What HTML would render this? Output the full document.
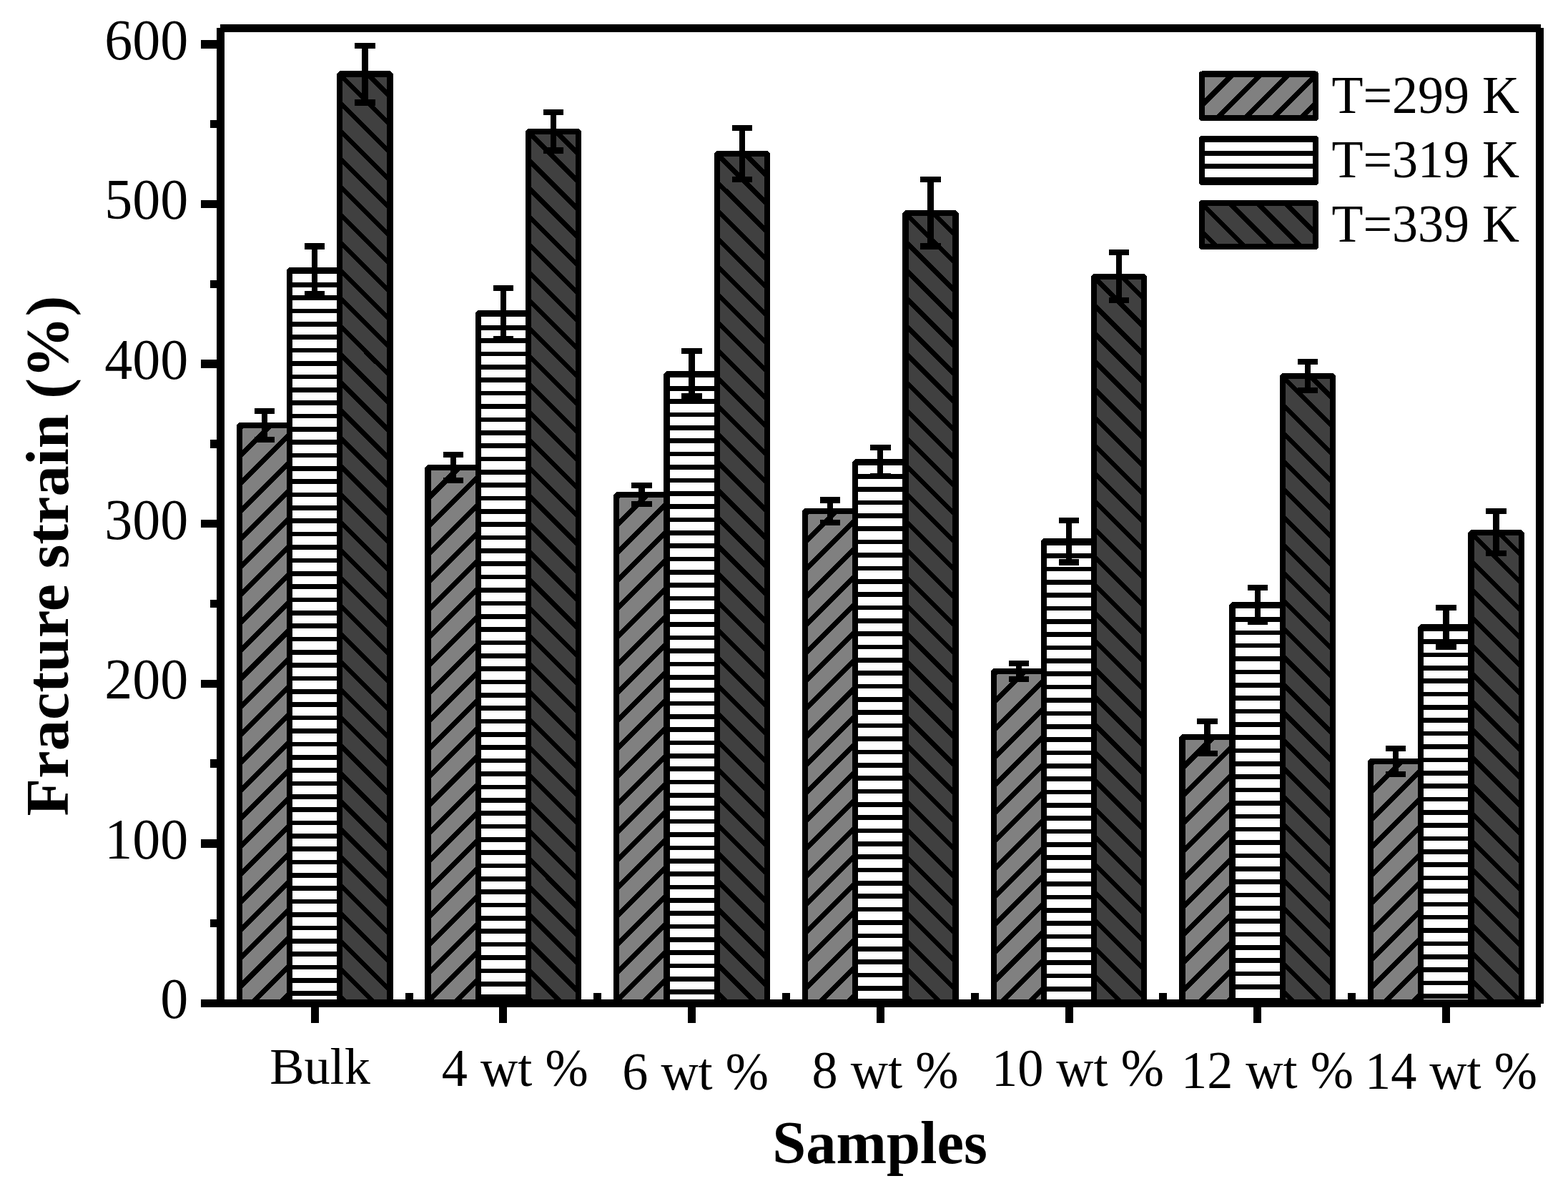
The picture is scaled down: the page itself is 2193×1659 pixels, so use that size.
<!DOCTYPE html>
<html lang="en"><head><meta charset="utf-8"><title>Fracture strain vs samples</title>
<style>html,body{margin:0;padding:0;background:#fff;}svg{display:block;}text{font-family:"Liberation Serif","DejaVu Serif",serif;fill:#000;}.tk{font-size:78px;text-anchor:end;}.xl{font-size:72.3px;}.lg{font-size:72px;}.ttl{font-size:84px;font-weight:bold;}.hz line{stroke:#000;stroke-width:6.60;}.dg line{stroke:#000;stroke-width:6.60;}.dg0 line{stroke:#000;stroke-width:7.10;}.bar{stroke:#000;stroke-width:8.30;stroke-linejoin:bevel;}.k{fill:#000;}</style></head><body>
<svg width="2193" height="1659" viewBox="0 0 2193 1659">
<rect x="0" y="0" width="2193" height="1659" fill="#fff"/>
<g shape-rendering="crispEdges">
<rect x="334.90" y="595.00" width="70.20" height="808.50" fill="#808080"/>
<g class="dg0"><svg x="334.90" y="595.00" width="70.20" height="808.50" overflow="hidden"><line x1="-10.00" y1="14.30" x2="80.20" y2="-75.90"/><line x1="-10.00" y1="53.39" x2="80.20" y2="-36.81"/><line x1="-10.00" y1="92.48" x2="80.20" y2="2.28"/><line x1="-10.00" y1="131.57" x2="80.20" y2="41.37"/><line x1="-10.00" y1="170.66" x2="80.20" y2="80.46"/><line x1="-10.00" y1="209.75" x2="80.20" y2="119.55"/><line x1="-10.00" y1="248.84" x2="80.20" y2="158.64"/><line x1="-10.00" y1="287.93" x2="80.20" y2="197.73"/><line x1="-10.00" y1="327.02" x2="80.20" y2="236.82"/><line x1="-10.00" y1="366.11" x2="80.20" y2="275.91"/><line x1="-10.00" y1="405.20" x2="80.20" y2="315.00"/><line x1="-10.00" y1="444.29" x2="80.20" y2="354.09"/><line x1="-10.00" y1="483.38" x2="80.20" y2="393.18"/><line x1="-10.00" y1="522.47" x2="80.20" y2="432.27"/><line x1="-10.00" y1="561.56" x2="80.20" y2="471.36"/><line x1="-10.00" y1="600.65" x2="80.20" y2="510.45"/><line x1="-10.00" y1="639.74" x2="80.20" y2="549.54"/><line x1="-10.00" y1="678.83" x2="80.20" y2="588.63"/><line x1="-10.00" y1="717.92" x2="80.20" y2="627.72"/><line x1="-10.00" y1="757.01" x2="80.20" y2="666.81"/><line x1="-10.00" y1="796.10" x2="80.20" y2="705.90"/><line x1="-10.00" y1="835.19" x2="80.20" y2="744.99"/><line x1="-10.00" y1="874.28" x2="80.20" y2="784.08"/><line x1="-10.00" y1="913.37" x2="80.20" y2="823.17"/></svg></g>
<rect x="405.10" y="378.00" width="70.20" height="1025.50" fill="#ffffff"/>
<g class="hz"><svg x="405.10" y="378.00" width="70.20" height="1025.50" overflow="hidden"><line x1="-5" y1="2.00" x2="75.20" y2="2.00"/><line x1="-5" y1="20.36" x2="75.20" y2="20.36"/><line x1="-5" y1="38.71" x2="75.20" y2="38.71"/><line x1="-5" y1="57.07" x2="75.20" y2="57.07"/><line x1="-5" y1="75.43" x2="75.20" y2="75.43"/><line x1="-5" y1="93.78" x2="75.20" y2="93.78"/><line x1="-5" y1="112.14" x2="75.20" y2="112.14"/><line x1="-5" y1="130.50" x2="75.20" y2="130.50"/><line x1="-5" y1="148.86" x2="75.20" y2="148.86"/><line x1="-5" y1="167.21" x2="75.20" y2="167.21"/><line x1="-5" y1="185.57" x2="75.20" y2="185.57"/><line x1="-5" y1="203.93" x2="75.20" y2="203.93"/><line x1="-5" y1="222.28" x2="75.20" y2="222.28"/><line x1="-5" y1="240.64" x2="75.20" y2="240.64"/><line x1="-5" y1="259.00" x2="75.20" y2="259.00"/><line x1="-5" y1="277.36" x2="75.20" y2="277.36"/><line x1="-5" y1="295.71" x2="75.20" y2="295.71"/><line x1="-5" y1="314.07" x2="75.20" y2="314.07"/><line x1="-5" y1="332.43" x2="75.20" y2="332.43"/><line x1="-5" y1="350.78" x2="75.20" y2="350.78"/><line x1="-5" y1="369.14" x2="75.20" y2="369.14"/><line x1="-5" y1="387.50" x2="75.20" y2="387.50"/><line x1="-5" y1="405.85" x2="75.20" y2="405.85"/><line x1="-5" y1="424.21" x2="75.20" y2="424.21"/><line x1="-5" y1="442.57" x2="75.20" y2="442.57"/><line x1="-5" y1="460.92" x2="75.20" y2="460.92"/><line x1="-5" y1="479.28" x2="75.20" y2="479.28"/><line x1="-5" y1="497.64" x2="75.20" y2="497.64"/><line x1="-5" y1="516.00" x2="75.20" y2="516.00"/><line x1="-5" y1="534.35" x2="75.20" y2="534.35"/><line x1="-5" y1="552.71" x2="75.20" y2="552.71"/><line x1="-5" y1="571.07" x2="75.20" y2="571.07"/><line x1="-5" y1="589.42" x2="75.20" y2="589.42"/><line x1="-5" y1="607.78" x2="75.20" y2="607.78"/><line x1="-5" y1="626.14" x2="75.20" y2="626.14"/><line x1="-5" y1="644.49" x2="75.20" y2="644.49"/><line x1="-5" y1="662.85" x2="75.20" y2="662.85"/><line x1="-5" y1="681.21" x2="75.20" y2="681.21"/><line x1="-5" y1="699.57" x2="75.20" y2="699.57"/><line x1="-5" y1="717.92" x2="75.20" y2="717.92"/><line x1="-5" y1="736.28" x2="75.20" y2="736.28"/><line x1="-5" y1="754.64" x2="75.20" y2="754.64"/><line x1="-5" y1="772.99" x2="75.20" y2="772.99"/><line x1="-5" y1="791.35" x2="75.20" y2="791.35"/><line x1="-5" y1="809.71" x2="75.20" y2="809.71"/><line x1="-5" y1="828.06" x2="75.20" y2="828.06"/><line x1="-5" y1="846.42" x2="75.20" y2="846.42"/><line x1="-5" y1="864.78" x2="75.20" y2="864.78"/><line x1="-5" y1="883.14" x2="75.20" y2="883.14"/><line x1="-5" y1="901.49" x2="75.20" y2="901.49"/><line x1="-5" y1="919.85" x2="75.20" y2="919.85"/><line x1="-5" y1="938.21" x2="75.20" y2="938.21"/><line x1="-5" y1="956.56" x2="75.20" y2="956.56"/><line x1="-5" y1="974.92" x2="75.20" y2="974.92"/><line x1="-5" y1="993.28" x2="75.20" y2="993.28"/><line x1="-5" y1="1011.63" x2="75.20" y2="1011.63"/><line x1="-5" y1="1029.99" x2="75.20" y2="1029.99"/></svg></g>
<rect x="475.30" y="103.50" width="70.20" height="1300.00" fill="#404040"/>
<g class="dg"><svg x="475.30" y="103.50" width="70.20" height="1300.00" overflow="hidden"><line x1="-10.00" y1="-126.71" x2="80.20" y2="-36.51"/><line x1="-10.00" y1="-87.64" x2="80.20" y2="2.56"/><line x1="-10.00" y1="-48.57" x2="80.20" y2="41.63"/><line x1="-10.00" y1="-9.50" x2="80.20" y2="80.70"/><line x1="-10.00" y1="29.57" x2="80.20" y2="119.77"/><line x1="-10.00" y1="68.64" x2="80.20" y2="158.84"/><line x1="-10.00" y1="107.71" x2="80.20" y2="197.91"/><line x1="-10.00" y1="146.78" x2="80.20" y2="236.98"/><line x1="-10.00" y1="185.85" x2="80.20" y2="276.05"/><line x1="-10.00" y1="224.92" x2="80.20" y2="315.12"/><line x1="-10.00" y1="263.99" x2="80.20" y2="354.19"/><line x1="-10.00" y1="303.06" x2="80.20" y2="393.26"/><line x1="-10.00" y1="342.13" x2="80.20" y2="432.33"/><line x1="-10.00" y1="381.20" x2="80.20" y2="471.40"/><line x1="-10.00" y1="420.27" x2="80.20" y2="510.47"/><line x1="-10.00" y1="459.34" x2="80.20" y2="549.54"/><line x1="-10.00" y1="498.41" x2="80.20" y2="588.61"/><line x1="-10.00" y1="537.48" x2="80.20" y2="627.68"/><line x1="-10.00" y1="576.55" x2="80.20" y2="666.75"/><line x1="-10.00" y1="615.62" x2="80.20" y2="705.82"/><line x1="-10.00" y1="654.69" x2="80.20" y2="744.89"/><line x1="-10.00" y1="693.76" x2="80.20" y2="783.96"/><line x1="-10.00" y1="732.83" x2="80.20" y2="823.03"/><line x1="-10.00" y1="771.90" x2="80.20" y2="862.10"/><line x1="-10.00" y1="810.97" x2="80.20" y2="901.17"/><line x1="-10.00" y1="850.04" x2="80.20" y2="940.24"/><line x1="-10.00" y1="889.11" x2="80.20" y2="979.31"/><line x1="-10.00" y1="928.18" x2="80.20" y2="1018.38"/><line x1="-10.00" y1="967.25" x2="80.20" y2="1057.45"/><line x1="-10.00" y1="1006.32" x2="80.20" y2="1096.52"/><line x1="-10.00" y1="1045.39" x2="80.20" y2="1135.59"/><line x1="-10.00" y1="1084.46" x2="80.20" y2="1174.66"/><line x1="-10.00" y1="1123.53" x2="80.20" y2="1213.73"/><line x1="-10.00" y1="1162.60" x2="80.20" y2="1252.80"/><line x1="-10.00" y1="1201.67" x2="80.20" y2="1291.87"/><line x1="-10.00" y1="1240.74" x2="80.20" y2="1330.94"/><line x1="-10.00" y1="1279.81" x2="80.20" y2="1370.01"/><line x1="-10.00" y1="1318.88" x2="80.20" y2="1409.08"/></svg></g>
<rect class="bar" x="334.90" y="595.00" width="70.20" height="808.50" fill="none"/>
<rect class="bar" x="405.10" y="378.00" width="70.20" height="1025.50" fill="none"/>
<rect class="bar" x="475.30" y="103.50" width="70.20" height="1300.00" fill="none"/>
<rect x="598.60" y="654.00" width="70.20" height="749.50" fill="#808080"/>
<g class="dg0"><svg x="598.60" y="654.00" width="70.20" height="749.50" overflow="hidden"><line x1="-10.00" y1="14.30" x2="80.20" y2="-75.90"/><line x1="-10.00" y1="53.39" x2="80.20" y2="-36.81"/><line x1="-10.00" y1="92.48" x2="80.20" y2="2.28"/><line x1="-10.00" y1="131.57" x2="80.20" y2="41.37"/><line x1="-10.00" y1="170.66" x2="80.20" y2="80.46"/><line x1="-10.00" y1="209.75" x2="80.20" y2="119.55"/><line x1="-10.00" y1="248.84" x2="80.20" y2="158.64"/><line x1="-10.00" y1="287.93" x2="80.20" y2="197.73"/><line x1="-10.00" y1="327.02" x2="80.20" y2="236.82"/><line x1="-10.00" y1="366.11" x2="80.20" y2="275.91"/><line x1="-10.00" y1="405.20" x2="80.20" y2="315.00"/><line x1="-10.00" y1="444.29" x2="80.20" y2="354.09"/><line x1="-10.00" y1="483.38" x2="80.20" y2="393.18"/><line x1="-10.00" y1="522.47" x2="80.20" y2="432.27"/><line x1="-10.00" y1="561.56" x2="80.20" y2="471.36"/><line x1="-10.00" y1="600.65" x2="80.20" y2="510.45"/><line x1="-10.00" y1="639.74" x2="80.20" y2="549.54"/><line x1="-10.00" y1="678.83" x2="80.20" y2="588.63"/><line x1="-10.00" y1="717.92" x2="80.20" y2="627.72"/><line x1="-10.00" y1="757.01" x2="80.20" y2="666.81"/><line x1="-10.00" y1="796.10" x2="80.20" y2="705.90"/><line x1="-10.00" y1="835.19" x2="80.20" y2="744.99"/></svg></g>
<rect x="668.80" y="438.00" width="70.20" height="965.50" fill="#ffffff"/>
<g class="hz"><svg x="668.80" y="438.00" width="70.20" height="965.50" overflow="hidden"><line x1="-5" y1="2.00" x2="75.20" y2="2.00"/><line x1="-5" y1="20.36" x2="75.20" y2="20.36"/><line x1="-5" y1="38.71" x2="75.20" y2="38.71"/><line x1="-5" y1="57.07" x2="75.20" y2="57.07"/><line x1="-5" y1="75.43" x2="75.20" y2="75.43"/><line x1="-5" y1="93.78" x2="75.20" y2="93.78"/><line x1="-5" y1="112.14" x2="75.20" y2="112.14"/><line x1="-5" y1="130.50" x2="75.20" y2="130.50"/><line x1="-5" y1="148.86" x2="75.20" y2="148.86"/><line x1="-5" y1="167.21" x2="75.20" y2="167.21"/><line x1="-5" y1="185.57" x2="75.20" y2="185.57"/><line x1="-5" y1="203.93" x2="75.20" y2="203.93"/><line x1="-5" y1="222.28" x2="75.20" y2="222.28"/><line x1="-5" y1="240.64" x2="75.20" y2="240.64"/><line x1="-5" y1="259.00" x2="75.20" y2="259.00"/><line x1="-5" y1="277.36" x2="75.20" y2="277.36"/><line x1="-5" y1="295.71" x2="75.20" y2="295.71"/><line x1="-5" y1="314.07" x2="75.20" y2="314.07"/><line x1="-5" y1="332.43" x2="75.20" y2="332.43"/><line x1="-5" y1="350.78" x2="75.20" y2="350.78"/><line x1="-5" y1="369.14" x2="75.20" y2="369.14"/><line x1="-5" y1="387.50" x2="75.20" y2="387.50"/><line x1="-5" y1="405.85" x2="75.20" y2="405.85"/><line x1="-5" y1="424.21" x2="75.20" y2="424.21"/><line x1="-5" y1="442.57" x2="75.20" y2="442.57"/><line x1="-5" y1="460.92" x2="75.20" y2="460.92"/><line x1="-5" y1="479.28" x2="75.20" y2="479.28"/><line x1="-5" y1="497.64" x2="75.20" y2="497.64"/><line x1="-5" y1="516.00" x2="75.20" y2="516.00"/><line x1="-5" y1="534.35" x2="75.20" y2="534.35"/><line x1="-5" y1="552.71" x2="75.20" y2="552.71"/><line x1="-5" y1="571.07" x2="75.20" y2="571.07"/><line x1="-5" y1="589.42" x2="75.20" y2="589.42"/><line x1="-5" y1="607.78" x2="75.20" y2="607.78"/><line x1="-5" y1="626.14" x2="75.20" y2="626.14"/><line x1="-5" y1="644.49" x2="75.20" y2="644.49"/><line x1="-5" y1="662.85" x2="75.20" y2="662.85"/><line x1="-5" y1="681.21" x2="75.20" y2="681.21"/><line x1="-5" y1="699.57" x2="75.20" y2="699.57"/><line x1="-5" y1="717.92" x2="75.20" y2="717.92"/><line x1="-5" y1="736.28" x2="75.20" y2="736.28"/><line x1="-5" y1="754.64" x2="75.20" y2="754.64"/><line x1="-5" y1="772.99" x2="75.20" y2="772.99"/><line x1="-5" y1="791.35" x2="75.20" y2="791.35"/><line x1="-5" y1="809.71" x2="75.20" y2="809.71"/><line x1="-5" y1="828.06" x2="75.20" y2="828.06"/><line x1="-5" y1="846.42" x2="75.20" y2="846.42"/><line x1="-5" y1="864.78" x2="75.20" y2="864.78"/><line x1="-5" y1="883.14" x2="75.20" y2="883.14"/><line x1="-5" y1="901.49" x2="75.20" y2="901.49"/><line x1="-5" y1="919.85" x2="75.20" y2="919.85"/><line x1="-5" y1="938.21" x2="75.20" y2="938.21"/><line x1="-5" y1="956.56" x2="75.20" y2="956.56"/><line x1="-5" y1="974.92" x2="75.20" y2="974.92"/></svg></g>
<rect x="739.00" y="184.00" width="70.20" height="1219.50" fill="#404040"/>
<g class="dg"><svg x="739.00" y="184.00" width="70.20" height="1219.50" overflow="hidden"><line x1="-10.00" y1="-126.71" x2="80.20" y2="-36.51"/><line x1="-10.00" y1="-87.64" x2="80.20" y2="2.56"/><line x1="-10.00" y1="-48.57" x2="80.20" y2="41.63"/><line x1="-10.00" y1="-9.50" x2="80.20" y2="80.70"/><line x1="-10.00" y1="29.57" x2="80.20" y2="119.77"/><line x1="-10.00" y1="68.64" x2="80.20" y2="158.84"/><line x1="-10.00" y1="107.71" x2="80.20" y2="197.91"/><line x1="-10.00" y1="146.78" x2="80.20" y2="236.98"/><line x1="-10.00" y1="185.85" x2="80.20" y2="276.05"/><line x1="-10.00" y1="224.92" x2="80.20" y2="315.12"/><line x1="-10.00" y1="263.99" x2="80.20" y2="354.19"/><line x1="-10.00" y1="303.06" x2="80.20" y2="393.26"/><line x1="-10.00" y1="342.13" x2="80.20" y2="432.33"/><line x1="-10.00" y1="381.20" x2="80.20" y2="471.40"/><line x1="-10.00" y1="420.27" x2="80.20" y2="510.47"/><line x1="-10.00" y1="459.34" x2="80.20" y2="549.54"/><line x1="-10.00" y1="498.41" x2="80.20" y2="588.61"/><line x1="-10.00" y1="537.48" x2="80.20" y2="627.68"/><line x1="-10.00" y1="576.55" x2="80.20" y2="666.75"/><line x1="-10.00" y1="615.62" x2="80.20" y2="705.82"/><line x1="-10.00" y1="654.69" x2="80.20" y2="744.89"/><line x1="-10.00" y1="693.76" x2="80.20" y2="783.96"/><line x1="-10.00" y1="732.83" x2="80.20" y2="823.03"/><line x1="-10.00" y1="771.90" x2="80.20" y2="862.10"/><line x1="-10.00" y1="810.97" x2="80.20" y2="901.17"/><line x1="-10.00" y1="850.04" x2="80.20" y2="940.24"/><line x1="-10.00" y1="889.11" x2="80.20" y2="979.31"/><line x1="-10.00" y1="928.18" x2="80.20" y2="1018.38"/><line x1="-10.00" y1="967.25" x2="80.20" y2="1057.45"/><line x1="-10.00" y1="1006.32" x2="80.20" y2="1096.52"/><line x1="-10.00" y1="1045.39" x2="80.20" y2="1135.59"/><line x1="-10.00" y1="1084.46" x2="80.20" y2="1174.66"/><line x1="-10.00" y1="1123.53" x2="80.20" y2="1213.73"/><line x1="-10.00" y1="1162.60" x2="80.20" y2="1252.80"/><line x1="-10.00" y1="1201.67" x2="80.20" y2="1291.87"/><line x1="-10.00" y1="1240.74" x2="80.20" y2="1330.94"/></svg></g>
<rect class="bar" x="598.60" y="654.00" width="70.20" height="749.50" fill="none"/>
<rect class="bar" x="668.80" y="438.00" width="70.20" height="965.50" fill="none"/>
<rect class="bar" x="739.00" y="184.00" width="70.20" height="1219.50" fill="none"/>
<rect x="862.30" y="692.00" width="70.20" height="711.50" fill="#808080"/>
<g class="dg0"><svg x="862.30" y="692.00" width="70.20" height="711.50" overflow="hidden"><line x1="-10.00" y1="14.30" x2="80.20" y2="-75.90"/><line x1="-10.00" y1="53.39" x2="80.20" y2="-36.81"/><line x1="-10.00" y1="92.48" x2="80.20" y2="2.28"/><line x1="-10.00" y1="131.57" x2="80.20" y2="41.37"/><line x1="-10.00" y1="170.66" x2="80.20" y2="80.46"/><line x1="-10.00" y1="209.75" x2="80.20" y2="119.55"/><line x1="-10.00" y1="248.84" x2="80.20" y2="158.64"/><line x1="-10.00" y1="287.93" x2="80.20" y2="197.73"/><line x1="-10.00" y1="327.02" x2="80.20" y2="236.82"/><line x1="-10.00" y1="366.11" x2="80.20" y2="275.91"/><line x1="-10.00" y1="405.20" x2="80.20" y2="315.00"/><line x1="-10.00" y1="444.29" x2="80.20" y2="354.09"/><line x1="-10.00" y1="483.38" x2="80.20" y2="393.18"/><line x1="-10.00" y1="522.47" x2="80.20" y2="432.27"/><line x1="-10.00" y1="561.56" x2="80.20" y2="471.36"/><line x1="-10.00" y1="600.65" x2="80.20" y2="510.45"/><line x1="-10.00" y1="639.74" x2="80.20" y2="549.54"/><line x1="-10.00" y1="678.83" x2="80.20" y2="588.63"/><line x1="-10.00" y1="717.92" x2="80.20" y2="627.72"/><line x1="-10.00" y1="757.01" x2="80.20" y2="666.81"/><line x1="-10.00" y1="796.10" x2="80.20" y2="705.90"/></svg></g>
<rect x="932.50" y="523.00" width="70.20" height="880.50" fill="#ffffff"/>
<g class="hz"><svg x="932.50" y="523.00" width="70.20" height="880.50" overflow="hidden"><line x1="-5" y1="2.00" x2="75.20" y2="2.00"/><line x1="-5" y1="20.36" x2="75.20" y2="20.36"/><line x1="-5" y1="38.71" x2="75.20" y2="38.71"/><line x1="-5" y1="57.07" x2="75.20" y2="57.07"/><line x1="-5" y1="75.43" x2="75.20" y2="75.43"/><line x1="-5" y1="93.78" x2="75.20" y2="93.78"/><line x1="-5" y1="112.14" x2="75.20" y2="112.14"/><line x1="-5" y1="130.50" x2="75.20" y2="130.50"/><line x1="-5" y1="148.86" x2="75.20" y2="148.86"/><line x1="-5" y1="167.21" x2="75.20" y2="167.21"/><line x1="-5" y1="185.57" x2="75.20" y2="185.57"/><line x1="-5" y1="203.93" x2="75.20" y2="203.93"/><line x1="-5" y1="222.28" x2="75.20" y2="222.28"/><line x1="-5" y1="240.64" x2="75.20" y2="240.64"/><line x1="-5" y1="259.00" x2="75.20" y2="259.00"/><line x1="-5" y1="277.36" x2="75.20" y2="277.36"/><line x1="-5" y1="295.71" x2="75.20" y2="295.71"/><line x1="-5" y1="314.07" x2="75.20" y2="314.07"/><line x1="-5" y1="332.43" x2="75.20" y2="332.43"/><line x1="-5" y1="350.78" x2="75.20" y2="350.78"/><line x1="-5" y1="369.14" x2="75.20" y2="369.14"/><line x1="-5" y1="387.50" x2="75.20" y2="387.50"/><line x1="-5" y1="405.85" x2="75.20" y2="405.85"/><line x1="-5" y1="424.21" x2="75.20" y2="424.21"/><line x1="-5" y1="442.57" x2="75.20" y2="442.57"/><line x1="-5" y1="460.92" x2="75.20" y2="460.92"/><line x1="-5" y1="479.28" x2="75.20" y2="479.28"/><line x1="-5" y1="497.64" x2="75.20" y2="497.64"/><line x1="-5" y1="516.00" x2="75.20" y2="516.00"/><line x1="-5" y1="534.35" x2="75.20" y2="534.35"/><line x1="-5" y1="552.71" x2="75.20" y2="552.71"/><line x1="-5" y1="571.07" x2="75.20" y2="571.07"/><line x1="-5" y1="589.42" x2="75.20" y2="589.42"/><line x1="-5" y1="607.78" x2="75.20" y2="607.78"/><line x1="-5" y1="626.14" x2="75.20" y2="626.14"/><line x1="-5" y1="644.49" x2="75.20" y2="644.49"/><line x1="-5" y1="662.85" x2="75.20" y2="662.85"/><line x1="-5" y1="681.21" x2="75.20" y2="681.21"/><line x1="-5" y1="699.57" x2="75.20" y2="699.57"/><line x1="-5" y1="717.92" x2="75.20" y2="717.92"/><line x1="-5" y1="736.28" x2="75.20" y2="736.28"/><line x1="-5" y1="754.64" x2="75.20" y2="754.64"/><line x1="-5" y1="772.99" x2="75.20" y2="772.99"/><line x1="-5" y1="791.35" x2="75.20" y2="791.35"/><line x1="-5" y1="809.71" x2="75.20" y2="809.71"/><line x1="-5" y1="828.06" x2="75.20" y2="828.06"/><line x1="-5" y1="846.42" x2="75.20" y2="846.42"/><line x1="-5" y1="864.78" x2="75.20" y2="864.78"/><line x1="-5" y1="883.14" x2="75.20" y2="883.14"/></svg></g>
<rect x="1002.70" y="214.80" width="70.20" height="1188.70" fill="#404040"/>
<g class="dg"><svg x="1002.70" y="214.80" width="70.20" height="1188.70" overflow="hidden"><line x1="-10.00" y1="-126.71" x2="80.20" y2="-36.51"/><line x1="-10.00" y1="-87.64" x2="80.20" y2="2.56"/><line x1="-10.00" y1="-48.57" x2="80.20" y2="41.63"/><line x1="-10.00" y1="-9.50" x2="80.20" y2="80.70"/><line x1="-10.00" y1="29.57" x2="80.20" y2="119.77"/><line x1="-10.00" y1="68.64" x2="80.20" y2="158.84"/><line x1="-10.00" y1="107.71" x2="80.20" y2="197.91"/><line x1="-10.00" y1="146.78" x2="80.20" y2="236.98"/><line x1="-10.00" y1="185.85" x2="80.20" y2="276.05"/><line x1="-10.00" y1="224.92" x2="80.20" y2="315.12"/><line x1="-10.00" y1="263.99" x2="80.20" y2="354.19"/><line x1="-10.00" y1="303.06" x2="80.20" y2="393.26"/><line x1="-10.00" y1="342.13" x2="80.20" y2="432.33"/><line x1="-10.00" y1="381.20" x2="80.20" y2="471.40"/><line x1="-10.00" y1="420.27" x2="80.20" y2="510.47"/><line x1="-10.00" y1="459.34" x2="80.20" y2="549.54"/><line x1="-10.00" y1="498.41" x2="80.20" y2="588.61"/><line x1="-10.00" y1="537.48" x2="80.20" y2="627.68"/><line x1="-10.00" y1="576.55" x2="80.20" y2="666.75"/><line x1="-10.00" y1="615.62" x2="80.20" y2="705.82"/><line x1="-10.00" y1="654.69" x2="80.20" y2="744.89"/><line x1="-10.00" y1="693.76" x2="80.20" y2="783.96"/><line x1="-10.00" y1="732.83" x2="80.20" y2="823.03"/><line x1="-10.00" y1="771.90" x2="80.20" y2="862.10"/><line x1="-10.00" y1="810.97" x2="80.20" y2="901.17"/><line x1="-10.00" y1="850.04" x2="80.20" y2="940.24"/><line x1="-10.00" y1="889.11" x2="80.20" y2="979.31"/><line x1="-10.00" y1="928.18" x2="80.20" y2="1018.38"/><line x1="-10.00" y1="967.25" x2="80.20" y2="1057.45"/><line x1="-10.00" y1="1006.32" x2="80.20" y2="1096.52"/><line x1="-10.00" y1="1045.39" x2="80.20" y2="1135.59"/><line x1="-10.00" y1="1084.46" x2="80.20" y2="1174.66"/><line x1="-10.00" y1="1123.53" x2="80.20" y2="1213.73"/><line x1="-10.00" y1="1162.60" x2="80.20" y2="1252.80"/><line x1="-10.00" y1="1201.67" x2="80.20" y2="1291.87"/></svg></g>
<rect class="bar" x="862.30" y="692.00" width="70.20" height="711.50" fill="none"/>
<rect class="bar" x="932.50" y="523.00" width="70.20" height="880.50" fill="none"/>
<rect class="bar" x="1002.70" y="214.80" width="70.20" height="1188.70" fill="none"/>
<rect x="1126.00" y="715.00" width="70.20" height="688.50" fill="#808080"/>
<g class="dg0"><svg x="1126.00" y="715.00" width="70.20" height="688.50" overflow="hidden"><line x1="-10.00" y1="14.30" x2="80.20" y2="-75.90"/><line x1="-10.00" y1="53.39" x2="80.20" y2="-36.81"/><line x1="-10.00" y1="92.48" x2="80.20" y2="2.28"/><line x1="-10.00" y1="131.57" x2="80.20" y2="41.37"/><line x1="-10.00" y1="170.66" x2="80.20" y2="80.46"/><line x1="-10.00" y1="209.75" x2="80.20" y2="119.55"/><line x1="-10.00" y1="248.84" x2="80.20" y2="158.64"/><line x1="-10.00" y1="287.93" x2="80.20" y2="197.73"/><line x1="-10.00" y1="327.02" x2="80.20" y2="236.82"/><line x1="-10.00" y1="366.11" x2="80.20" y2="275.91"/><line x1="-10.00" y1="405.20" x2="80.20" y2="315.00"/><line x1="-10.00" y1="444.29" x2="80.20" y2="354.09"/><line x1="-10.00" y1="483.38" x2="80.20" y2="393.18"/><line x1="-10.00" y1="522.47" x2="80.20" y2="432.27"/><line x1="-10.00" y1="561.56" x2="80.20" y2="471.36"/><line x1="-10.00" y1="600.65" x2="80.20" y2="510.45"/><line x1="-10.00" y1="639.74" x2="80.20" y2="549.54"/><line x1="-10.00" y1="678.83" x2="80.20" y2="588.63"/><line x1="-10.00" y1="717.92" x2="80.20" y2="627.72"/><line x1="-10.00" y1="757.01" x2="80.20" y2="666.81"/><line x1="-10.00" y1="796.10" x2="80.20" y2="705.90"/></svg></g>
<rect x="1196.20" y="646.00" width="70.20" height="757.50" fill="#ffffff"/>
<g class="hz"><svg x="1196.20" y="646.00" width="70.20" height="757.50" overflow="hidden"><line x1="-5" y1="2.00" x2="75.20" y2="2.00"/><line x1="-5" y1="20.36" x2="75.20" y2="20.36"/><line x1="-5" y1="38.71" x2="75.20" y2="38.71"/><line x1="-5" y1="57.07" x2="75.20" y2="57.07"/><line x1="-5" y1="75.43" x2="75.20" y2="75.43"/><line x1="-5" y1="93.78" x2="75.20" y2="93.78"/><line x1="-5" y1="112.14" x2="75.20" y2="112.14"/><line x1="-5" y1="130.50" x2="75.20" y2="130.50"/><line x1="-5" y1="148.86" x2="75.20" y2="148.86"/><line x1="-5" y1="167.21" x2="75.20" y2="167.21"/><line x1="-5" y1="185.57" x2="75.20" y2="185.57"/><line x1="-5" y1="203.93" x2="75.20" y2="203.93"/><line x1="-5" y1="222.28" x2="75.20" y2="222.28"/><line x1="-5" y1="240.64" x2="75.20" y2="240.64"/><line x1="-5" y1="259.00" x2="75.20" y2="259.00"/><line x1="-5" y1="277.36" x2="75.20" y2="277.36"/><line x1="-5" y1="295.71" x2="75.20" y2="295.71"/><line x1="-5" y1="314.07" x2="75.20" y2="314.07"/><line x1="-5" y1="332.43" x2="75.20" y2="332.43"/><line x1="-5" y1="350.78" x2="75.20" y2="350.78"/><line x1="-5" y1="369.14" x2="75.20" y2="369.14"/><line x1="-5" y1="387.50" x2="75.20" y2="387.50"/><line x1="-5" y1="405.85" x2="75.20" y2="405.85"/><line x1="-5" y1="424.21" x2="75.20" y2="424.21"/><line x1="-5" y1="442.57" x2="75.20" y2="442.57"/><line x1="-5" y1="460.92" x2="75.20" y2="460.92"/><line x1="-5" y1="479.28" x2="75.20" y2="479.28"/><line x1="-5" y1="497.64" x2="75.20" y2="497.64"/><line x1="-5" y1="516.00" x2="75.20" y2="516.00"/><line x1="-5" y1="534.35" x2="75.20" y2="534.35"/><line x1="-5" y1="552.71" x2="75.20" y2="552.71"/><line x1="-5" y1="571.07" x2="75.20" y2="571.07"/><line x1="-5" y1="589.42" x2="75.20" y2="589.42"/><line x1="-5" y1="607.78" x2="75.20" y2="607.78"/><line x1="-5" y1="626.14" x2="75.20" y2="626.14"/><line x1="-5" y1="644.49" x2="75.20" y2="644.49"/><line x1="-5" y1="662.85" x2="75.20" y2="662.85"/><line x1="-5" y1="681.21" x2="75.20" y2="681.21"/><line x1="-5" y1="699.57" x2="75.20" y2="699.57"/><line x1="-5" y1="717.92" x2="75.20" y2="717.92"/><line x1="-5" y1="736.28" x2="75.20" y2="736.28"/><line x1="-5" y1="754.64" x2="75.20" y2="754.64"/><line x1="-5" y1="772.99" x2="75.20" y2="772.99"/></svg></g>
<rect x="1266.40" y="298.20" width="70.20" height="1105.30" fill="#404040"/>
<g class="dg"><svg x="1266.40" y="298.20" width="70.20" height="1105.30" overflow="hidden"><line x1="-10.00" y1="-126.71" x2="80.20" y2="-36.51"/><line x1="-10.00" y1="-87.64" x2="80.20" y2="2.56"/><line x1="-10.00" y1="-48.57" x2="80.20" y2="41.63"/><line x1="-10.00" y1="-9.50" x2="80.20" y2="80.70"/><line x1="-10.00" y1="29.57" x2="80.20" y2="119.77"/><line x1="-10.00" y1="68.64" x2="80.20" y2="158.84"/><line x1="-10.00" y1="107.71" x2="80.20" y2="197.91"/><line x1="-10.00" y1="146.78" x2="80.20" y2="236.98"/><line x1="-10.00" y1="185.85" x2="80.20" y2="276.05"/><line x1="-10.00" y1="224.92" x2="80.20" y2="315.12"/><line x1="-10.00" y1="263.99" x2="80.20" y2="354.19"/><line x1="-10.00" y1="303.06" x2="80.20" y2="393.26"/><line x1="-10.00" y1="342.13" x2="80.20" y2="432.33"/><line x1="-10.00" y1="381.20" x2="80.20" y2="471.40"/><line x1="-10.00" y1="420.27" x2="80.20" y2="510.47"/><line x1="-10.00" y1="459.34" x2="80.20" y2="549.54"/><line x1="-10.00" y1="498.41" x2="80.20" y2="588.61"/><line x1="-10.00" y1="537.48" x2="80.20" y2="627.68"/><line x1="-10.00" y1="576.55" x2="80.20" y2="666.75"/><line x1="-10.00" y1="615.62" x2="80.20" y2="705.82"/><line x1="-10.00" y1="654.69" x2="80.20" y2="744.89"/><line x1="-10.00" y1="693.76" x2="80.20" y2="783.96"/><line x1="-10.00" y1="732.83" x2="80.20" y2="823.03"/><line x1="-10.00" y1="771.90" x2="80.20" y2="862.10"/><line x1="-10.00" y1="810.97" x2="80.20" y2="901.17"/><line x1="-10.00" y1="850.04" x2="80.20" y2="940.24"/><line x1="-10.00" y1="889.11" x2="80.20" y2="979.31"/><line x1="-10.00" y1="928.18" x2="80.20" y2="1018.38"/><line x1="-10.00" y1="967.25" x2="80.20" y2="1057.45"/><line x1="-10.00" y1="1006.32" x2="80.20" y2="1096.52"/><line x1="-10.00" y1="1045.39" x2="80.20" y2="1135.59"/><line x1="-10.00" y1="1084.46" x2="80.20" y2="1174.66"/><line x1="-10.00" y1="1123.53" x2="80.20" y2="1213.73"/></svg></g>
<rect class="bar" x="1126.00" y="715.00" width="70.20" height="688.50" fill="none"/>
<rect class="bar" x="1196.20" y="646.00" width="70.20" height="757.50" fill="none"/>
<rect class="bar" x="1266.40" y="298.20" width="70.20" height="1105.30" fill="none"/>
<rect x="1389.70" y="939.00" width="70.20" height="464.50" fill="#808080"/>
<g class="dg0"><svg x="1389.70" y="939.00" width="70.20" height="464.50" overflow="hidden"><line x1="-10.00" y1="14.30" x2="80.20" y2="-75.90"/><line x1="-10.00" y1="53.39" x2="80.20" y2="-36.81"/><line x1="-10.00" y1="92.48" x2="80.20" y2="2.28"/><line x1="-10.00" y1="131.57" x2="80.20" y2="41.37"/><line x1="-10.00" y1="170.66" x2="80.20" y2="80.46"/><line x1="-10.00" y1="209.75" x2="80.20" y2="119.55"/><line x1="-10.00" y1="248.84" x2="80.20" y2="158.64"/><line x1="-10.00" y1="287.93" x2="80.20" y2="197.73"/><line x1="-10.00" y1="327.02" x2="80.20" y2="236.82"/><line x1="-10.00" y1="366.11" x2="80.20" y2="275.91"/><line x1="-10.00" y1="405.20" x2="80.20" y2="315.00"/><line x1="-10.00" y1="444.29" x2="80.20" y2="354.09"/><line x1="-10.00" y1="483.38" x2="80.20" y2="393.18"/><line x1="-10.00" y1="522.47" x2="80.20" y2="432.27"/><line x1="-10.00" y1="561.56" x2="80.20" y2="471.36"/></svg></g>
<rect x="1459.90" y="757.20" width="70.20" height="646.30" fill="#ffffff"/>
<g class="hz"><svg x="1459.90" y="757.20" width="70.20" height="646.30" overflow="hidden"><line x1="-5" y1="2.00" x2="75.20" y2="2.00"/><line x1="-5" y1="20.36" x2="75.20" y2="20.36"/><line x1="-5" y1="38.71" x2="75.20" y2="38.71"/><line x1="-5" y1="57.07" x2="75.20" y2="57.07"/><line x1="-5" y1="75.43" x2="75.20" y2="75.43"/><line x1="-5" y1="93.78" x2="75.20" y2="93.78"/><line x1="-5" y1="112.14" x2="75.20" y2="112.14"/><line x1="-5" y1="130.50" x2="75.20" y2="130.50"/><line x1="-5" y1="148.86" x2="75.20" y2="148.86"/><line x1="-5" y1="167.21" x2="75.20" y2="167.21"/><line x1="-5" y1="185.57" x2="75.20" y2="185.57"/><line x1="-5" y1="203.93" x2="75.20" y2="203.93"/><line x1="-5" y1="222.28" x2="75.20" y2="222.28"/><line x1="-5" y1="240.64" x2="75.20" y2="240.64"/><line x1="-5" y1="259.00" x2="75.20" y2="259.00"/><line x1="-5" y1="277.36" x2="75.20" y2="277.36"/><line x1="-5" y1="295.71" x2="75.20" y2="295.71"/><line x1="-5" y1="314.07" x2="75.20" y2="314.07"/><line x1="-5" y1="332.43" x2="75.20" y2="332.43"/><line x1="-5" y1="350.78" x2="75.20" y2="350.78"/><line x1="-5" y1="369.14" x2="75.20" y2="369.14"/><line x1="-5" y1="387.50" x2="75.20" y2="387.50"/><line x1="-5" y1="405.85" x2="75.20" y2="405.85"/><line x1="-5" y1="424.21" x2="75.20" y2="424.21"/><line x1="-5" y1="442.57" x2="75.20" y2="442.57"/><line x1="-5" y1="460.92" x2="75.20" y2="460.92"/><line x1="-5" y1="479.28" x2="75.20" y2="479.28"/><line x1="-5" y1="497.64" x2="75.20" y2="497.64"/><line x1="-5" y1="516.00" x2="75.20" y2="516.00"/><line x1="-5" y1="534.35" x2="75.20" y2="534.35"/><line x1="-5" y1="552.71" x2="75.20" y2="552.71"/><line x1="-5" y1="571.07" x2="75.20" y2="571.07"/><line x1="-5" y1="589.42" x2="75.20" y2="589.42"/><line x1="-5" y1="607.78" x2="75.20" y2="607.78"/><line x1="-5" y1="626.14" x2="75.20" y2="626.14"/><line x1="-5" y1="644.49" x2="75.20" y2="644.49"/><line x1="-5" y1="662.85" x2="75.20" y2="662.85"/></svg></g>
<rect x="1530.10" y="387.00" width="70.20" height="1016.50" fill="#404040"/>
<g class="dg"><svg x="1530.10" y="387.00" width="70.20" height="1016.50" overflow="hidden"><line x1="-10.00" y1="-126.71" x2="80.20" y2="-36.51"/><line x1="-10.00" y1="-87.64" x2="80.20" y2="2.56"/><line x1="-10.00" y1="-48.57" x2="80.20" y2="41.63"/><line x1="-10.00" y1="-9.50" x2="80.20" y2="80.70"/><line x1="-10.00" y1="29.57" x2="80.20" y2="119.77"/><line x1="-10.00" y1="68.64" x2="80.20" y2="158.84"/><line x1="-10.00" y1="107.71" x2="80.20" y2="197.91"/><line x1="-10.00" y1="146.78" x2="80.20" y2="236.98"/><line x1="-10.00" y1="185.85" x2="80.20" y2="276.05"/><line x1="-10.00" y1="224.92" x2="80.20" y2="315.12"/><line x1="-10.00" y1="263.99" x2="80.20" y2="354.19"/><line x1="-10.00" y1="303.06" x2="80.20" y2="393.26"/><line x1="-10.00" y1="342.13" x2="80.20" y2="432.33"/><line x1="-10.00" y1="381.20" x2="80.20" y2="471.40"/><line x1="-10.00" y1="420.27" x2="80.20" y2="510.47"/><line x1="-10.00" y1="459.34" x2="80.20" y2="549.54"/><line x1="-10.00" y1="498.41" x2="80.20" y2="588.61"/><line x1="-10.00" y1="537.48" x2="80.20" y2="627.68"/><line x1="-10.00" y1="576.55" x2="80.20" y2="666.75"/><line x1="-10.00" y1="615.62" x2="80.20" y2="705.82"/><line x1="-10.00" y1="654.69" x2="80.20" y2="744.89"/><line x1="-10.00" y1="693.76" x2="80.20" y2="783.96"/><line x1="-10.00" y1="732.83" x2="80.20" y2="823.03"/><line x1="-10.00" y1="771.90" x2="80.20" y2="862.10"/><line x1="-10.00" y1="810.97" x2="80.20" y2="901.17"/><line x1="-10.00" y1="850.04" x2="80.20" y2="940.24"/><line x1="-10.00" y1="889.11" x2="80.20" y2="979.31"/><line x1="-10.00" y1="928.18" x2="80.20" y2="1018.38"/><line x1="-10.00" y1="967.25" x2="80.20" y2="1057.45"/><line x1="-10.00" y1="1006.32" x2="80.20" y2="1096.52"/><line x1="-10.00" y1="1045.39" x2="80.20" y2="1135.59"/></svg></g>
<rect class="bar" x="1389.70" y="939.00" width="70.20" height="464.50" fill="none"/>
<rect class="bar" x="1459.90" y="757.20" width="70.20" height="646.30" fill="none"/>
<rect class="bar" x="1530.10" y="387.00" width="70.20" height="1016.50" fill="none"/>
<rect x="1653.40" y="1031.20" width="70.20" height="372.30" fill="#808080"/>
<g class="dg0"><svg x="1653.40" y="1031.20" width="70.20" height="372.30" overflow="hidden"><line x1="-10.00" y1="14.30" x2="80.20" y2="-75.90"/><line x1="-10.00" y1="53.39" x2="80.20" y2="-36.81"/><line x1="-10.00" y1="92.48" x2="80.20" y2="2.28"/><line x1="-10.00" y1="131.57" x2="80.20" y2="41.37"/><line x1="-10.00" y1="170.66" x2="80.20" y2="80.46"/><line x1="-10.00" y1="209.75" x2="80.20" y2="119.55"/><line x1="-10.00" y1="248.84" x2="80.20" y2="158.64"/><line x1="-10.00" y1="287.93" x2="80.20" y2="197.73"/><line x1="-10.00" y1="327.02" x2="80.20" y2="236.82"/><line x1="-10.00" y1="366.11" x2="80.20" y2="275.91"/><line x1="-10.00" y1="405.20" x2="80.20" y2="315.00"/><line x1="-10.00" y1="444.29" x2="80.20" y2="354.09"/><line x1="-10.00" y1="483.38" x2="80.20" y2="393.18"/></svg></g>
<rect x="1723.60" y="846.10" width="70.20" height="557.40" fill="#ffffff"/>
<g class="hz"><svg x="1723.60" y="846.10" width="70.20" height="557.40" overflow="hidden"><line x1="-5" y1="2.00" x2="75.20" y2="2.00"/><line x1="-5" y1="20.36" x2="75.20" y2="20.36"/><line x1="-5" y1="38.71" x2="75.20" y2="38.71"/><line x1="-5" y1="57.07" x2="75.20" y2="57.07"/><line x1="-5" y1="75.43" x2="75.20" y2="75.43"/><line x1="-5" y1="93.78" x2="75.20" y2="93.78"/><line x1="-5" y1="112.14" x2="75.20" y2="112.14"/><line x1="-5" y1="130.50" x2="75.20" y2="130.50"/><line x1="-5" y1="148.86" x2="75.20" y2="148.86"/><line x1="-5" y1="167.21" x2="75.20" y2="167.21"/><line x1="-5" y1="185.57" x2="75.20" y2="185.57"/><line x1="-5" y1="203.93" x2="75.20" y2="203.93"/><line x1="-5" y1="222.28" x2="75.20" y2="222.28"/><line x1="-5" y1="240.64" x2="75.20" y2="240.64"/><line x1="-5" y1="259.00" x2="75.20" y2="259.00"/><line x1="-5" y1="277.36" x2="75.20" y2="277.36"/><line x1="-5" y1="295.71" x2="75.20" y2="295.71"/><line x1="-5" y1="314.07" x2="75.20" y2="314.07"/><line x1="-5" y1="332.43" x2="75.20" y2="332.43"/><line x1="-5" y1="350.78" x2="75.20" y2="350.78"/><line x1="-5" y1="369.14" x2="75.20" y2="369.14"/><line x1="-5" y1="387.50" x2="75.20" y2="387.50"/><line x1="-5" y1="405.85" x2="75.20" y2="405.85"/><line x1="-5" y1="424.21" x2="75.20" y2="424.21"/><line x1="-5" y1="442.57" x2="75.20" y2="442.57"/><line x1="-5" y1="460.92" x2="75.20" y2="460.92"/><line x1="-5" y1="479.28" x2="75.20" y2="479.28"/><line x1="-5" y1="497.64" x2="75.20" y2="497.64"/><line x1="-5" y1="516.00" x2="75.20" y2="516.00"/><line x1="-5" y1="534.35" x2="75.20" y2="534.35"/><line x1="-5" y1="552.71" x2="75.20" y2="552.71"/><line x1="-5" y1="571.07" x2="75.20" y2="571.07"/></svg></g>
<rect x="1793.80" y="526.00" width="70.20" height="877.50" fill="#404040"/>
<g class="dg"><svg x="1793.80" y="526.00" width="70.20" height="877.50" overflow="hidden"><line x1="-10.00" y1="-126.71" x2="80.20" y2="-36.51"/><line x1="-10.00" y1="-87.64" x2="80.20" y2="2.56"/><line x1="-10.00" y1="-48.57" x2="80.20" y2="41.63"/><line x1="-10.00" y1="-9.50" x2="80.20" y2="80.70"/><line x1="-10.00" y1="29.57" x2="80.20" y2="119.77"/><line x1="-10.00" y1="68.64" x2="80.20" y2="158.84"/><line x1="-10.00" y1="107.71" x2="80.20" y2="197.91"/><line x1="-10.00" y1="146.78" x2="80.20" y2="236.98"/><line x1="-10.00" y1="185.85" x2="80.20" y2="276.05"/><line x1="-10.00" y1="224.92" x2="80.20" y2="315.12"/><line x1="-10.00" y1="263.99" x2="80.20" y2="354.19"/><line x1="-10.00" y1="303.06" x2="80.20" y2="393.26"/><line x1="-10.00" y1="342.13" x2="80.20" y2="432.33"/><line x1="-10.00" y1="381.20" x2="80.20" y2="471.40"/><line x1="-10.00" y1="420.27" x2="80.20" y2="510.47"/><line x1="-10.00" y1="459.34" x2="80.20" y2="549.54"/><line x1="-10.00" y1="498.41" x2="80.20" y2="588.61"/><line x1="-10.00" y1="537.48" x2="80.20" y2="627.68"/><line x1="-10.00" y1="576.55" x2="80.20" y2="666.75"/><line x1="-10.00" y1="615.62" x2="80.20" y2="705.82"/><line x1="-10.00" y1="654.69" x2="80.20" y2="744.89"/><line x1="-10.00" y1="693.76" x2="80.20" y2="783.96"/><line x1="-10.00" y1="732.83" x2="80.20" y2="823.03"/><line x1="-10.00" y1="771.90" x2="80.20" y2="862.10"/><line x1="-10.00" y1="810.97" x2="80.20" y2="901.17"/><line x1="-10.00" y1="850.04" x2="80.20" y2="940.24"/><line x1="-10.00" y1="889.11" x2="80.20" y2="979.31"/></svg></g>
<rect class="bar" x="1653.40" y="1031.20" width="70.20" height="372.30" fill="none"/>
<rect class="bar" x="1723.60" y="846.10" width="70.20" height="557.40" fill="none"/>
<rect class="bar" x="1793.80" y="526.00" width="70.20" height="877.50" fill="none"/>
<rect x="1917.10" y="1065.00" width="70.20" height="338.50" fill="#808080"/>
<g class="dg0"><svg x="1917.10" y="1065.00" width="70.20" height="338.50" overflow="hidden"><line x1="-10.00" y1="14.30" x2="80.20" y2="-75.90"/><line x1="-10.00" y1="53.39" x2="80.20" y2="-36.81"/><line x1="-10.00" y1="92.48" x2="80.20" y2="2.28"/><line x1="-10.00" y1="131.57" x2="80.20" y2="41.37"/><line x1="-10.00" y1="170.66" x2="80.20" y2="80.46"/><line x1="-10.00" y1="209.75" x2="80.20" y2="119.55"/><line x1="-10.00" y1="248.84" x2="80.20" y2="158.64"/><line x1="-10.00" y1="287.93" x2="80.20" y2="197.73"/><line x1="-10.00" y1="327.02" x2="80.20" y2="236.82"/><line x1="-10.00" y1="366.11" x2="80.20" y2="275.91"/><line x1="-10.00" y1="405.20" x2="80.20" y2="315.00"/><line x1="-10.00" y1="444.29" x2="80.20" y2="354.09"/></svg></g>
<rect x="1987.30" y="877.30" width="70.20" height="526.20" fill="#ffffff"/>
<g class="hz"><svg x="1987.30" y="877.30" width="70.20" height="526.20" overflow="hidden"><line x1="-5" y1="2.00" x2="75.20" y2="2.00"/><line x1="-5" y1="20.36" x2="75.20" y2="20.36"/><line x1="-5" y1="38.71" x2="75.20" y2="38.71"/><line x1="-5" y1="57.07" x2="75.20" y2="57.07"/><line x1="-5" y1="75.43" x2="75.20" y2="75.43"/><line x1="-5" y1="93.78" x2="75.20" y2="93.78"/><line x1="-5" y1="112.14" x2="75.20" y2="112.14"/><line x1="-5" y1="130.50" x2="75.20" y2="130.50"/><line x1="-5" y1="148.86" x2="75.20" y2="148.86"/><line x1="-5" y1="167.21" x2="75.20" y2="167.21"/><line x1="-5" y1="185.57" x2="75.20" y2="185.57"/><line x1="-5" y1="203.93" x2="75.20" y2="203.93"/><line x1="-5" y1="222.28" x2="75.20" y2="222.28"/><line x1="-5" y1="240.64" x2="75.20" y2="240.64"/><line x1="-5" y1="259.00" x2="75.20" y2="259.00"/><line x1="-5" y1="277.36" x2="75.20" y2="277.36"/><line x1="-5" y1="295.71" x2="75.20" y2="295.71"/><line x1="-5" y1="314.07" x2="75.20" y2="314.07"/><line x1="-5" y1="332.43" x2="75.20" y2="332.43"/><line x1="-5" y1="350.78" x2="75.20" y2="350.78"/><line x1="-5" y1="369.14" x2="75.20" y2="369.14"/><line x1="-5" y1="387.50" x2="75.20" y2="387.50"/><line x1="-5" y1="405.85" x2="75.20" y2="405.85"/><line x1="-5" y1="424.21" x2="75.20" y2="424.21"/><line x1="-5" y1="442.57" x2="75.20" y2="442.57"/><line x1="-5" y1="460.92" x2="75.20" y2="460.92"/><line x1="-5" y1="479.28" x2="75.20" y2="479.28"/><line x1="-5" y1="497.64" x2="75.20" y2="497.64"/><line x1="-5" y1="516.00" x2="75.20" y2="516.00"/><line x1="-5" y1="534.35" x2="75.20" y2="534.35"/></svg></g>
<rect x="2057.50" y="745.00" width="70.20" height="658.50" fill="#404040"/>
<g class="dg"><svg x="2057.50" y="745.00" width="70.20" height="658.50" overflow="hidden"><line x1="-10.00" y1="-126.71" x2="80.20" y2="-36.51"/><line x1="-10.00" y1="-87.64" x2="80.20" y2="2.56"/><line x1="-10.00" y1="-48.57" x2="80.20" y2="41.63"/><line x1="-10.00" y1="-9.50" x2="80.20" y2="80.70"/><line x1="-10.00" y1="29.57" x2="80.20" y2="119.77"/><line x1="-10.00" y1="68.64" x2="80.20" y2="158.84"/><line x1="-10.00" y1="107.71" x2="80.20" y2="197.91"/><line x1="-10.00" y1="146.78" x2="80.20" y2="236.98"/><line x1="-10.00" y1="185.85" x2="80.20" y2="276.05"/><line x1="-10.00" y1="224.92" x2="80.20" y2="315.12"/><line x1="-10.00" y1="263.99" x2="80.20" y2="354.19"/><line x1="-10.00" y1="303.06" x2="80.20" y2="393.26"/><line x1="-10.00" y1="342.13" x2="80.20" y2="432.33"/><line x1="-10.00" y1="381.20" x2="80.20" y2="471.40"/><line x1="-10.00" y1="420.27" x2="80.20" y2="510.47"/><line x1="-10.00" y1="459.34" x2="80.20" y2="549.54"/><line x1="-10.00" y1="498.41" x2="80.20" y2="588.61"/><line x1="-10.00" y1="537.48" x2="80.20" y2="627.68"/><line x1="-10.00" y1="576.55" x2="80.20" y2="666.75"/><line x1="-10.00" y1="615.62" x2="80.20" y2="705.82"/><line x1="-10.00" y1="654.69" x2="80.20" y2="744.89"/></svg></g>
<rect class="bar" x="1917.10" y="1065.00" width="70.20" height="338.50" fill="none"/>
<rect class="bar" x="1987.30" y="877.30" width="70.20" height="526.20" fill="none"/>
<rect class="bar" x="2057.50" y="745.00" width="70.20" height="658.50" fill="none"/>
<rect class="k" x="365.85" y="575.00" width="8.30" height="40.00"/>
<rect class="k" x="355.80" y="570.85" width="28.40" height="8.30"/>
<rect class="k" x="355.80" y="610.85" width="28.40" height="8.30"/>
<rect class="k" x="436.05" y="344.50" width="8.30" height="66.50"/>
<rect class="k" x="426.00" y="340.35" width="28.40" height="8.30"/>
<rect class="k" x="426.00" y="406.85" width="28.40" height="8.30"/>
<rect class="k" x="506.25" y="64.00" width="8.30" height="79.50"/>
<rect class="k" x="496.20" y="59.85" width="28.40" height="8.30"/>
<rect class="k" x="496.20" y="139.35" width="28.40" height="8.30"/>
<rect class="k" x="629.55" y="636.00" width="8.30" height="36.00"/>
<rect class="k" x="619.50" y="631.85" width="28.40" height="8.30"/>
<rect class="k" x="619.50" y="667.85" width="28.40" height="8.30"/>
<rect class="k" x="699.75" y="403.00" width="8.30" height="71.00"/>
<rect class="k" x="689.70" y="398.85" width="28.40" height="8.30"/>
<rect class="k" x="689.70" y="469.85" width="28.40" height="8.30"/>
<rect class="k" x="769.95" y="157.00" width="8.30" height="53.50"/>
<rect class="k" x="759.90" y="152.85" width="28.40" height="8.30"/>
<rect class="k" x="759.90" y="206.35" width="28.40" height="8.30"/>
<rect class="k" x="893.25" y="679.00" width="8.30" height="26.00"/>
<rect class="k" x="883.20" y="674.85" width="28.40" height="8.30"/>
<rect class="k" x="883.20" y="700.85" width="28.40" height="8.30"/>
<rect class="k" x="963.45" y="491.00" width="8.30" height="63.00"/>
<rect class="k" x="953.40" y="486.85" width="28.40" height="8.30"/>
<rect class="k" x="953.40" y="549.85" width="28.40" height="8.30"/>
<rect class="k" x="1033.65" y="179.00" width="8.30" height="72.00"/>
<rect class="k" x="1023.60" y="174.85" width="28.40" height="8.30"/>
<rect class="k" x="1023.60" y="246.85" width="28.40" height="8.30"/>
<rect class="k" x="1156.95" y="699.50" width="8.30" height="31.50"/>
<rect class="k" x="1146.90" y="695.35" width="28.40" height="8.30"/>
<rect class="k" x="1146.90" y="726.85" width="28.40" height="8.30"/>
<rect class="k" x="1227.15" y="626.00" width="8.30" height="40.00"/>
<rect class="k" x="1217.10" y="621.85" width="28.40" height="8.30"/>
<rect class="k" x="1217.10" y="661.85" width="28.40" height="8.30"/>
<rect class="k" x="1297.35" y="251.00" width="8.30" height="93.50"/>
<rect class="k" x="1287.30" y="246.85" width="28.40" height="8.30"/>
<rect class="k" x="1287.30" y="340.35" width="28.40" height="8.30"/>
<rect class="k" x="1420.65" y="928.00" width="8.30" height="22.00"/>
<rect class="k" x="1410.60" y="923.85" width="28.40" height="8.30"/>
<rect class="k" x="1410.60" y="945.85" width="28.40" height="8.30"/>
<rect class="k" x="1490.85" y="728.00" width="8.30" height="58.50"/>
<rect class="k" x="1480.80" y="723.85" width="28.40" height="8.30"/>
<rect class="k" x="1480.80" y="782.35" width="28.40" height="8.30"/>
<rect class="k" x="1561.05" y="353.00" width="8.30" height="67.00"/>
<rect class="k" x="1551.00" y="348.85" width="28.40" height="8.30"/>
<rect class="k" x="1551.00" y="415.85" width="28.40" height="8.30"/>
<rect class="k" x="1684.35" y="1009.00" width="8.30" height="45.00"/>
<rect class="k" x="1674.30" y="1004.85" width="28.40" height="8.30"/>
<rect class="k" x="1674.30" y="1049.85" width="28.40" height="8.30"/>
<rect class="k" x="1754.55" y="822.00" width="8.30" height="48.00"/>
<rect class="k" x="1744.50" y="817.85" width="28.40" height="8.30"/>
<rect class="k" x="1744.50" y="865.85" width="28.40" height="8.30"/>
<rect class="k" x="1824.75" y="506.00" width="8.30" height="40.00"/>
<rect class="k" x="1814.70" y="501.85" width="28.40" height="8.30"/>
<rect class="k" x="1814.70" y="541.85" width="28.40" height="8.30"/>
<rect class="k" x="1948.05" y="1047.20" width="8.30" height="35.80"/>
<rect class="k" x="1938.00" y="1043.05" width="28.40" height="8.30"/>
<rect class="k" x="1938.00" y="1078.85" width="28.40" height="8.30"/>
<rect class="k" x="2018.25" y="850.00" width="8.30" height="54.50"/>
<rect class="k" x="2008.20" y="845.85" width="28.40" height="8.30"/>
<rect class="k" x="2008.20" y="900.35" width="28.40" height="8.30"/>
<rect class="k" x="2088.45" y="715.00" width="8.30" height="59.00"/>
<rect class="k" x="2078.40" y="710.85" width="28.40" height="8.30"/>
<rect class="k" x="2078.40" y="769.85" width="28.40" height="8.30"/>
<rect class="k" x="303" y="39" width="11" height="1365"/>
<rect class="k" x="2148" y="39" width="11" height="1365"/>
<rect class="k" x="308" y="34" width="1847" height="11"/>
<rect class="k" x="281" y="1398" width="1874" height="11"/>
<rect class="k" x="281" y="1174.22" width="22" height="11.4"/>
<rect class="k" x="281" y="950.63" width="22" height="11.4"/>
<rect class="k" x="281" y="727.05" width="22" height="11.4"/>
<rect class="k" x="281" y="503.47" width="22" height="11.4"/>
<rect class="k" x="281" y="279.88" width="22" height="11.4"/>
<rect class="k" x="281" y="56.30" width="22" height="11.4"/>
<rect class="k" x="294" y="1286.01" width="9" height="11.4"/>
<rect class="k" x="294" y="1062.42" width="9" height="11.4"/>
<rect class="k" x="294" y="838.84" width="9" height="11.4"/>
<rect class="k" x="294" y="615.26" width="9" height="11.4"/>
<rect class="k" x="294" y="391.68" width="9" height="11.4"/>
<rect class="k" x="294" y="168.09" width="9" height="11.4"/>
<rect class="k" x="434.70" y="1409" width="11" height="22"/>
<rect class="k" x="698.40" y="1409" width="11" height="22"/>
<rect class="k" x="962.10" y="1409" width="11" height="22"/>
<rect class="k" x="1225.80" y="1409" width="11" height="22"/>
<rect class="k" x="1489.50" y="1409" width="11" height="22"/>
<rect class="k" x="1753.20" y="1409" width="11" height="22"/>
<rect class="k" x="2016.90" y="1409" width="11" height="22"/>
<rect class="k" x="566.55" y="1389" width="11" height="9"/>
<rect class="k" x="830.25" y="1389" width="11" height="9"/>
<rect class="k" x="1093.95" y="1389" width="11" height="9"/>
<rect class="k" x="1357.65" y="1389" width="11" height="9"/>
<rect class="k" x="1621.35" y="1389" width="11" height="9"/>
<rect class="k" x="1885.05" y="1389" width="11" height="9"/>
<rect x="1681.00" y="103.60" width="159.00" height="61.20" fill="#808080"/>
<g class="dg0"><svg x="1681.00" y="103.60" width="159.00" height="61.20" overflow="hidden"><line x1="-10.00" y1="14.30" x2="169.00" y2="-164.70"/><line x1="-10.00" y1="53.39" x2="169.00" y2="-125.61"/><line x1="-10.00" y1="92.48" x2="169.00" y2="-86.52"/><line x1="-10.00" y1="131.57" x2="169.00" y2="-47.43"/><line x1="-10.00" y1="170.66" x2="169.00" y2="-8.34"/><line x1="-10.00" y1="209.75" x2="169.00" y2="30.75"/><line x1="-10.00" y1="248.84" x2="169.00" y2="69.84"/></svg></g>
<rect class="bar" style="stroke-linejoin:round" x="1681.00" y="103.60" width="159.00" height="61.20" fill="none"/>
<rect x="1681.00" y="193.90" width="159.00" height="61.10" fill="#ffffff"/>
<g class="hz"><svg x="1681.00" y="193.90" width="159.00" height="61.10" overflow="hidden"><line x1="-5" y1="2.00" x2="164.00" y2="2.00"/><line x1="-5" y1="20.36" x2="164.00" y2="20.36"/><line x1="-5" y1="38.71" x2="164.00" y2="38.71"/><line x1="-5" y1="57.07" x2="164.00" y2="57.07"/><line x1="-5" y1="75.43" x2="164.00" y2="75.43"/></svg></g>
<rect class="bar" style="stroke-linejoin:round" x="1681.00" y="193.90" width="159.00" height="61.10" fill="none"/>
<rect x="1681.00" y="284.20" width="159.00" height="60.70" fill="#404040"/>
<g class="dg"><svg x="1681.00" y="284.20" width="159.00" height="60.70" overflow="hidden"><line x1="-10.00" y1="-126.71" x2="169.00" y2="52.29"/><line x1="-10.00" y1="-87.64" x2="169.00" y2="91.36"/><line x1="-10.00" y1="-48.57" x2="169.00" y2="130.43"/><line x1="-10.00" y1="-9.50" x2="169.00" y2="169.50"/><line x1="-10.00" y1="29.57" x2="169.00" y2="208.57"/><line x1="-10.00" y1="68.64" x2="169.00" y2="247.64"/></svg></g>
<rect class="bar" style="stroke-linejoin:round" x="1681.00" y="284.20" width="159.00" height="60.70" fill="none"/>
</g>
<text class="tk" transform="translate(263.30 1424.40) scale(1.0000 1.0350)">0</text>
<text class="tk" transform="translate(263.30 1200.82) scale(1.0000 1.0350)">100</text>
<text class="tk" transform="translate(263.30 977.23) scale(1.0000 1.0350)">200</text>
<text class="tk" transform="translate(263.30 753.65) scale(1.0000 1.0350)">300</text>
<text class="tk" transform="translate(263.30 530.07) scale(1.0000 1.0350)">400</text>
<text class="tk" transform="translate(263.30 306.48) scale(1.0000 1.0350)">500</text>
<text class="tk" transform="translate(263.30 82.90) scale(1.0000 1.0350)">600</text>
<text class="xl" transform="translate(377.20 1516.10)">Bulk</text>
<text class="xl" transform="translate(617.80 1518.70) scale(1.0000 1.0200)">4 wt %</text>
<text class="xl" transform="translate(870.20 1523.80) scale(1.0000 1.0200)">6 wt %</text>
<text class="xl" transform="translate(1135.60 1521.80) scale(1.0000 1.0200)">8 wt %</text>
<text class="xl" transform="translate(1387.00 1519.20) scale(1.0000 1.0200)">10 wt %</text>
<text class="xl" transform="translate(1652.00 1522.00) scale(1.0000 1.0200)">12 wt %</text>
<text class="xl" transform="translate(1909.00 1522.50) scale(1.0000 1.0200)">14 wt %</text>
<text class="lg" transform="translate(1862.40 158.10) scale(1.0000 1.0200)">T=299 K</text>
<text class="lg" transform="translate(1862.40 248.20) scale(1.0000 1.0200)">T=319 K</text>
<text class="lg" transform="translate(1862.40 338.30) scale(1.0000 1.0200)">T=339 K</text>
<text class="ttl" transform="translate(1080.20 1626.70) scale(1.0070 1.0120)">Samples</text>
<text class="ttl" transform="translate(95.10 1141.40) rotate(-90) scale(1.0285 1.0000)">Fracture strain (%)</text>
</svg></body></html>
